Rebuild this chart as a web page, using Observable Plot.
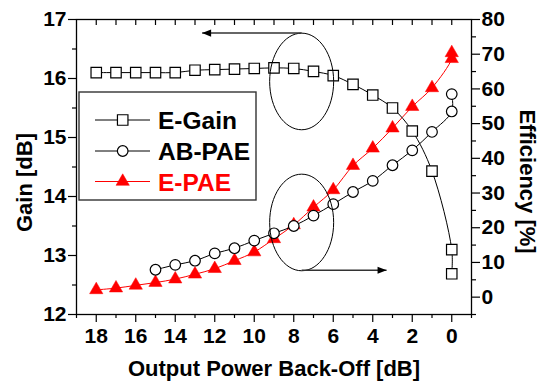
<!DOCTYPE html>
<html><head><meta charset="utf-8">
<script src="https://cdn.jsdelivr.net/npm/d3@7"></script>
<script src="https://cdn.jsdelivr.net/npm/@observablehq/plot@0.6"></script>
<style>
html,body{margin:0;padding:0;background:#fff;}
#chart{width:546px;height:385px;}
</style></head><body><div id="chart"></div>
<script>
// ---- data ----
const seriesNames = ["E-Gain", "AB-PAE", "E-PAE"];
const seriesColors = ["black", "black", "#ff0000"];
const eGainX = [18,17,16,15,14,13,12,11,10,9,8,7,6,5,4,3,2,1,0,0];
const eGain  = [16.10,16.10,16.10,16.10,16.10,16.14,16.15,16.16,16.17,16.18,16.17,16.12,16.05,15.90,15.72,15.50,15.11,14.43,13.10,12.69];
const abPaeX = [15,14,13,12,11,10,9,8,7,6,5,4,3,2,1,0,0];
const abPae  = [7.9,9.3,10.5,12.6,14.1,16.3,18.4,20.5,23.5,26.8,30.3,33.5,38.0,42.3,47.6,53.5,58.5];
const ePaeX  = [18,17,16,15,14,13,12,11,10,9,8,7,6,5,4,3,2,1,0,0];
const ePae   = [2.1,2.6,3.4,4.2,5.2,6.6,8.2,10.5,13.0,16.8,20.8,25.9,30.9,37.9,42.9,48.7,54.9,60.3,68.7,70.4];

const xTicks = [18,16,14,12,10,8,6,4,2,0];
const xMinor = [19,17,15,13,11,9,7,5,3,1,-1];
const xTop   = [18,17,16,15,14,13,12,11,10,9,8,7,6,5,4,3,2,1,0];
const gainTicks = [12,13,14,15,16,17];
const gainMinor = [12.5,13.5,14.5,15.5,16.5];
const effTicks = [0,10,20,30,40,50,60,70,80];
const effMinor = [-5,5,15,25,35,45,55,65,75];

const xTitle = "Output Power Back-Off [dB]";
const yTitle = "Gain [dB]";
const y2Title = "Efficiency [%]";

// annotations (in x / gain units)
const ellipseX = [7.6, 7.6];
const ellipseY = [15.95, 13.56];
const arrowFromX = [7.6, 7.6];
const arrowToX = [12.64, 3.3];
const arrowY = [16.77, 12.75];
const arrowDir = ["left", "right"];

// ---- helpers ----
const effToGain = e => 12 + (e + 5) * 5 / 85;
const gainRows = eGainX.map((x, i) => ({x, y: eGain[i]}));
const abRows = abPaeX.map((x, i) => ({x, y: effToGain(abPae[i])}));
const eRows = ePaeX.map((x, i) => ({x, y: effToGain(ePae[i])}));

const ellipseSym = (rx, ry) => ({draw(c) {
  const k = 0.5523;
  c.moveTo(rx, 0);
  c.bezierCurveTo(rx, ry*k, rx*k, ry, 0, ry);
  c.bezierCurveTo(-rx*k, ry, -rx, ry*k, -rx, 0);
  c.bezierCurveTo(-rx, -ry*k, -rx*k, -ry, 0, -ry);
  c.bezierCurveTo(rx*k, -ry, rx, -ry*k, rx, 0);
  c.closePath();
}});
const headLeft = {draw(c) { c.moveTo(0, 0); c.lineTo(9, -3.6); c.lineTo(9, 3.6); c.closePath(); }};
const headRight = {draw(c) { c.moveTo(0, 0); c.lineTo(-9, -3.6); c.lineTo(-9, 3.6); c.closePath(); }};

const ann = ellipseX.map((x, i) => ({x, y: ellipseY[i]}));
const arrows = arrowFromX.map((x, i) => ({x1: x, x2: arrowToX[i], y: arrowY[i], dir: arrowDir[i]}));

const fontFam = "'Liberation Sans', Arial, Helvetica, sans-serif";

function legendMark() {
  return () => {
    const g = d3.create("svg:g");
    g.append("rect").attr("x", 79).attr("y", 92).attr("width", 177).attr("height", 108)
      .attr("fill", "white").attr("stroke", "#333").attr("stroke-width", 1.4);
    const rowsY = [120, 151, 181.5];
    const syms = [d3.symbol(d3.symbolSquare, 10.5*10.5), null, d3.symbol(d3.symbolTriangle, 13.3*13.3*Math.sqrt(3)/4)];
    seriesNames.forEach((name, i) => {
      const y = rowsY[i];
      g.append("line").attr("x1", 95).attr("x2", 150).attr("y1", y).attr("y2", y)
        .attr("stroke", seriesColors[i]).attr("stroke-width", 1);
      if (i === 1) {
        g.append("circle").attr("cx", 122.7).attr("cy", y).attr("r", 5.3)
          .attr("fill", "white").attr("stroke", "black").attr("stroke-width", 1.2);
      } else {
        g.append("path").attr("d", syms[i]()).attr("transform", `translate(122.7,${y})`)
          .attr("fill", i === 0 ? "white" : "#ff0000").attr("stroke", i === 0 ? "black" : "#ff0000").attr("stroke-width", i === 0 ? 1.2 : 0.5);
      }
      g.append("text").attr("x", 158).attr("y", y + 9).text(name)
        .attr("text-anchor", "start")
        .attr("fill", seriesColors[i]).attr("font-size", 24.5).attr("font-weight", "bold")
        .attr("font-family", fontFam);
    });
    return g.node();
  };
}

const tickText = {fontSize: 21, fontWeight: "bold", fontFamily: fontFam, fill: "black"};
const titleText = {fontSize: 22, fontWeight: "bold", fontFamily: fontFam, fill: "black", textAnchor: "middle", lineAnchor: "middle"};

const chart = Plot.plot({
  width: 546, height: 385,
  marginLeft: 76, marginRight: 75, marginTop: 19, marginBottom: 71,
  style: {background: "white", color: "black", fontFamily: fontFam},
  x: {domain: [19, -1]},
  y: {domain: [12, 17]},
  marks: [
    // data
    Plot.line(eRows, {x: "x", y: "y", curve: "catmull-rom", stroke: "#ff0000", strokeWidth: 1}),
    Plot.dot(eRows, {x: "x", y: "y", symbol: "triangle", r: 4.94, fill: "#ff0000", stroke: "#ff0000", strokeWidth: 0.5}),
    Plot.line(abRows, {x: "x", y: "y", curve: "catmull-rom", stroke: "black", strokeWidth: 1}),
    Plot.dot(abRows, {x: "x", y: "y", r: 5.3, fill: "white", stroke: "black", strokeWidth: 1.2}),
    Plot.line(gainRows, {x: "x", y: "y", curve: "catmull-rom", stroke: "black", strokeWidth: 1}),
    Plot.dot(gainRows, {x: "x", y: "y", symbol: "square", r: 5.9, fill: "white", stroke: "black", strokeWidth: 1.2}),
    // annotations
    Plot.dot(ann, {x: "x", y: "y", symbol: ellipseSym(32, 48.3), r: 10, fill: "none", stroke: "black", strokeWidth: 1}),
    Plot.link(arrows, {x1: "x1", x2: "x2", y1: "y", y2: "y", stroke: "#333", strokeWidth: 1.4}),
    Plot.dot(arrows.filter(d => d.dir === "left"), {x: "x2", y: "y", symbol: headLeft, r: 5, fill: "black", stroke: "none"}),
    Plot.dot(arrows.filter(d => d.dir === "right"), {x: "x2", y: "y", symbol: headRight, r: 5, fill: "black", stroke: "none"}),
    // axes
    Plot.axisX(xTicks, {anchor: "bottom", tickSize: 8, tickPadding: 6, tickFormat: d => String(d), strokeWidth: 1.2, label: null, ...tickText}),
    Plot.axisX(xMinor, {anchor: "bottom", tickSize: 4, tickFormat: () => "", strokeWidth: 1.2, label: null}),
    Plot.axisX(xTop, {anchor: "top", tickSize: 5, dy: 5, tickFormat: () => "", strokeWidth: 1.2, label: null}),
    Plot.axisY(gainTicks, {anchor: "left", tickSize: 8, tickPadding: 2, tickFormat: d => String(d), strokeWidth: 1.2, label: null, ...tickText}),
    Plot.axisY(gainMinor, {anchor: "left", tickSize: 4, tickFormat: () => "", strokeWidth: 1.2, label: null}),
    Plot.axisY(effTicks, {anchor: "right", y: effToGain, text: d => String(d), tickSize: 8, tickPadding: 2, strokeWidth: 1.2, label: null, ...tickText}),
    Plot.axisY(effMinor, {anchor: "right", y: effToGain, tickFormat: () => "", text: () => "", tickSize: 4, strokeWidth: 1.2, label: null}),
    Plot.frame({stroke: "black", strokeWidth: 1.3}),
    // titles
    Plot.text([xTitle], {frameAnchor: "bottom", dy: 54, text: d => d, ...titleText}),
    Plot.text([yTitle], {frameAnchor: "left", dx: -52, dy: 15.5, rotate: -90, text: d => d, ...titleText}),
    Plot.text([y2Title], {frameAnchor: "right", dx: 56, dy: 14.5, rotate: 90, text: d => d, ...titleText}),
    legendMark()
  ]
});
document.getElementById("chart").appendChild(chart);
</script>
</body></html>
